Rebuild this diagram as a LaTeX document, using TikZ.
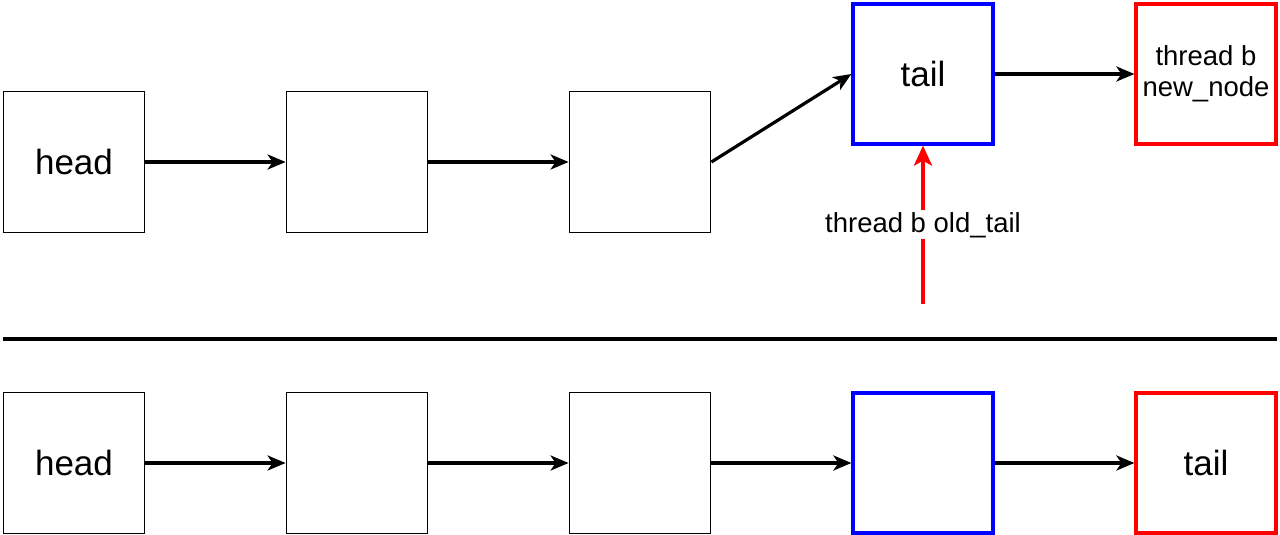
\documentclass[tikz,border=0pt]{standalone}
\usepackage{fontspec}
\setmainfont{Liberation Sans}
\usetikzlibrary{arrows.meta}
\begin{document}
\begin{tikzpicture}[x=1pt,y=-1pt,
  box/.style={draw=black,line width=1.8pt,minimum width=141pt,minimum height=141pt,inner sep=0pt,fill=white},
  bluebox/.style={box,draw={rgb,255:red,0;green,0;blue,255},line width=3.2pt,minimum width=140pt,minimum height=140pt},
  redbox/.style={box,draw={rgb,255:red,255;green,0;blue,0},line width=3.2pt,minimum width=140pt,minimum height=140pt},
  big/.style={font=\fontsize{35}{40}\selectfont},
  small/.style={font=\fontsize{27.5}{31}\selectfont,align=center},
  link/.style={line width=3.2pt,-{Stealth[length=18pt,width=15pt,inset=5pt]}},
  redlink/.style={line width=4.2pt,draw={rgb,255:red,255;green,0;blue,0},-{Stealth[length=20pt,width=18pt,inset=5pt]}}
]
\useasboundingbox (0,0) rectangle (1280,535);
% top row
\node[box,big] (a1) at (74,162) {head};
\node[box] (a2) at (357,162) {};
\node[box] (a3) at (640,162) {};
\node[bluebox,big] (a4) at (923,74) {tail};
\node[redbox,small] (a5) at (1206,74) {thread b\\new\_node};
\draw[link] (a1) -- (a2);
\draw[link] (a2) -- (a3);
\draw[link] (a3.east) -- (a4.west);
\draw[link] (a4) -- (a5);
\coordinate (ot) at (923,304);
\draw[redlink] (ot) -- (a4.south) node[pos=0.5,fill=white,small,inner sep=2pt,text=black] (lbl) {thread b old\_tail};
% separator
\coordinate (s1) at (3,339);
\coordinate (s2) at (1277,339);
\draw[line width=3.2pt] (s1) -- (s2);
% bottom row
\node[box,big] (b1) at (74,463) {head};
\node[box] (b2) at (357,463) {};
\node[box] (b3) at (640,463) {};
\node[bluebox] (b4) at (923,463) {};
\node[redbox,big] (b5) at (1206,463) {tail};
\draw[link] (b1) -- (b2);
\draw[link] (b2) -- (b3);
\draw[link] (b3) -- (b4);
\draw[link] (b4) -- (b5);
\end{tikzpicture}
\end{document}
